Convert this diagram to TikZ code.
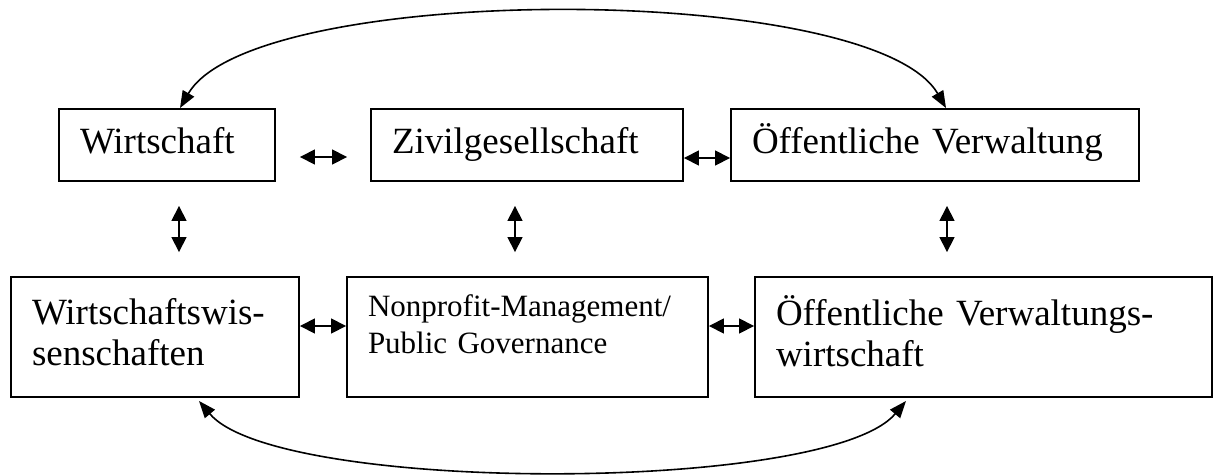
\documentclass[tikz,border=0pt]{standalone}
\usepackage{fontspec}
\setmainfont{Liberation Serif}
\usetikzlibrary{arrows.meta}

\newcommand{\npdepth}{\rule[-29pt]{0pt}{29pt}}

\begin{document}
\begin{tikzpicture}[x=1pt,y=-1pt]
        \useasboundingbox (0,0) rectangle (1215,475);
        \begin{scope}[every node/.style={draw=black,line width=1.9pt,align=left,inner xsep=21pt,inner ysep=0pt,font=\fontsize{37}{41}\selectfont}]
            \node[text width=174pt,minimum height=72pt] (wirt) at (167,145) {Wirtschaft\strut};
            \node[text width=270pt,minimum height=72pt] (zivil) at (527,145) {Zivilgesellschaft\strut};
            \node[text width=366pt,minimum height=72pt] (oev) at (935,145) {Öffentliche Verwaltung\strut};

            \node[text width=246pt,minimum height=120pt] (wiwi) at (155,337) {Wirtschaftswis-\strut\\senschaften\strut};
            \node[text width=319pt,minimum height=120pt,font=\fontsize{31}{37}\selectfont] (npm) at (527.5,337) {Nonprofit-Management/\strut\\Public Governance\npdepth};
            \node[text width=415pt,minimum height=120pt] (oevw) at (983.5,337) {Öffentliche Verwaltungs-\strut\\wirtschaft\strut};
        \end{scope}
        \begin{scope}[every edge/.style={draw,line width=1.6pt}]
            \path [{Triangle[length=15pt,width=15pt]}-{Triangle[length=15pt,width=15pt]}]
                ([yshift=-12pt]wirt.east) edge[shorten <=24pt,shorten >=23pt] ([yshift=-12pt]zivil.west)
                ([yshift=-13pt]zivil.east) edge ([yshift=-13pt]oev.west)
                ([yshift=11pt]wiwi.east) edge ([yshift=11pt]npm.west)
                ([yshift=11pt]npm.east) edge ([yshift=11pt]oevw.west);
            \path [{Triangle[length=15pt,width=15pt]}-{Triangle[length=15pt,width=15pt]},shorten <=24pt,shorten >=24pt]
                ([xshift=12pt]wirt.south) edge ([xshift=24pt]wiwi.north)
                ([xshift=-12pt]zivil.south) edge ([xshift=-12.5pt]npm.north)
                ([xshift=12pt]oev.south) edge ([xshift=-36.5pt]oevw.north);

            % the two long bows
            \path [line width=1.8pt,{Triangle[length=17pt,width=13pt]}-{Triangle[length=17pt,width=13pt]}]
                ([xshift=13pt]wirt.north) edge[out=60,in=120,looseness=0.49] ([xshift=11pt]oev.north)
                ([xshift=44pt,yshift=-3pt]wiwi.south) edge[out=-50,in=-130,looseness=0.44] ([xshift=-77.5pt,yshift=-3pt]oevw.south);
        \end{scope}
    \end{tikzpicture}
\end{document}
